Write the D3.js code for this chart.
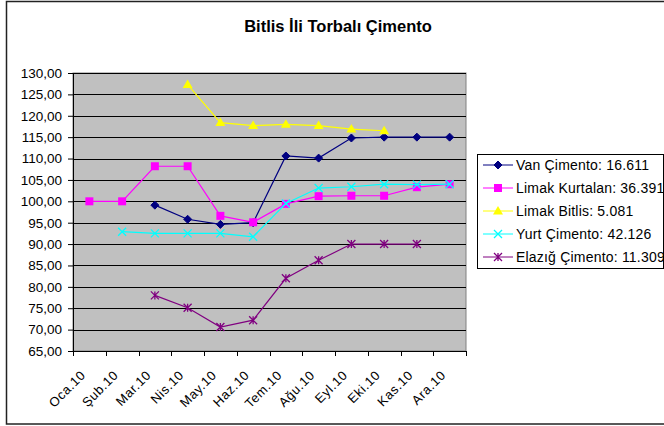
<!DOCTYPE html>
<html>
<head>
<meta charset="utf-8">
<script src="https://cdn.jsdelivr.net/npm/d3@7"></script>
<style>
body { margin: 0; background: #fff; }
text { font-family: "Liberation Sans", Arial, sans-serif; }
</style>
</head>
<body>
<div id="chart"></div>
<script>
//data
var months = ["Oca.10", "Şub.10", "Mar.10", "Nis.10", "May.10", "Haz.10", "Tem.10", "Ağu.10", "Eyl.10", "Eki.10", "Kas.10", "Ara.10"];
var vanCimento = [null, null, 99.1, 95.8, 94.6, 95.0, 110.6, 110.1, 114.8, 115.0, 115.0, 115.0];
var limakKurtalan = [100, 100, 108.2, 108.2, 96.6, 95.1, 99.4, 101.2, 101.3, 101.3, 103.3, 104.0];
var limakBitlis = [null, null, null, 127.3, 118.4, 117.7, 118.0, 117.7, 116.9, 116.5, null, null];
var yurtCimento = [null, 92.9, 92.5, 92.5, 92.5, 91.7, 99.5, 103.1, 103.4, 104.0, 103.9, 104.0];
var elazigCimento = [null, null, 78.0, 75.1, 70.6, 72.2, 82.0, 86.2, 90.0, 90.0, 90.0, null];
var yTicks = [65, 70, 75, 80, 85, 90, 95, 100, 105, 110, 115, 120, 125, 130];

var series = [
    { name: "Van Çimento: 16.611", values: vanCimento, color: "#000080", symbol: "diamond" },
    { name: "Limak Kurtalan: 36.391", values: limakKurtalan, color: "#FF00FF", symbol: "square" },
    { name: "Limak Bitlis: 5.081", values: limakBitlis, color: "#FFFF00", symbol: "triangle" },
    { name: "Yurt Çimento: 42.126", values: yurtCimento, color: "#00FFFF", symbol: "x" },
    { name: "Elazığ Çimento: 11.309", values: elazigCimento, color: "#800080", symbol: "star" }
];

var svgWidth = 664, svgHeight = 426;
var plot = { left: 73, top: 73, right: 466, bottom: 351 };

var svg = d3.select("#chart")
    .append("svg")
    .attr("width", svgWidth)
    .attr("height", svgHeight);

//outer border
svg.append("rect")
    .attr("x", 6.5).attr("y", 1.5)
    .attr("width", 670).attr("height", 422.5)
    .attr("fill", "#fff")
    .attr("stroke", "#222")
    .attr("stroke-width", 1.5);

//title
svg.append("text")
    .attr("x", 338).attr("y", 32)
    .attr("text-anchor", "middle")
    .attr("font-size", 16.5)
    .attr("font-weight", "bold")
    .text("Bitlis İli Torbalı Çimento");

var xScale = d3.scaleBand()
    .domain(months)
    .range([plot.left, plot.right]);

var yScale = d3.scaleLinear()
    .domain([65, 130])
    .range([plot.bottom, plot.top]);

//plot background
svg.append("rect")
    .attr("x", plot.left).attr("y", plot.top)
    .attr("width", plot.right - plot.left)
    .attr("height", plot.bottom - plot.top)
    .attr("fill", "#C0C0C0")
    .attr("stroke", "#808080");

//gridlines
svg.append("g")
    .selectAll("line")
    .data(yTicks.filter(d => d > 65))
    .enter()
    .append("line")
    .attr("x1", plot.left).attr("x2", plot.right)
    .attr("y1", d => Math.round(yScale(d)) + 0.5)
    .attr("y2", d => Math.round(yScale(d)) + 0.5)
    .attr("stroke", "#000");

//y axis
var leftAxis = d3.axisLeft(yScale)
    .tickValues(yTicks)
    .tickSize(5)
    .tickPadding(6)
    .tickFormat(d => d3.format(".2f")(d).replace(".", ","));

var yAxis = svg.append("g")
    .attr("transform", `translate(${plot.left},0)`)
    .call(leftAxis);
yAxis.select(".domain").attr("stroke", "#000").attr("d", `M0.5,${plot.top}V${plot.bottom}`);
yAxis.selectAll(".tick line").attr("stroke", "#000");
yAxis.selectAll(".tick text").attr("font-size", 13.5).attr("fill", "#000")
    .attr("font-family", "Liberation Sans, Arial, sans-serif");

//x axis with ticks between categories
var xAxis = svg.append("g");
xAxis.append("line")
    .attr("x1", plot.left).attr("x2", plot.right)
    .attr("y1", plot.bottom + 0.5).attr("y2", plot.bottom + 0.5)
    .attr("stroke", "#000");
xAxis.selectAll(".xtick")
    .data(months.concat(["end"]))
    .enter()
    .append("line")
    .attr("class", "xtick")
    .attr("x1", (d, i) => Math.round(plot.left + i * xScale.bandwidth()) + 0.5)
    .attr("x2", (d, i) => Math.round(plot.left + i * xScale.bandwidth()) + 0.5)
    .attr("y1", plot.bottom).attr("y2", plot.bottom + 5)
    .attr("stroke", "#000");
xAxis.selectAll(".xlabel")
    .data(months)
    .enter()
    .append("text")
    .attr("class", "xlabel")
    .attr("text-anchor", "end")
    .attr("font-size", 13)
    .attr("letter-spacing", 0.6)
    .attr("transform", d => `translate(${xScale(d) + xScale.bandwidth() / 2 - 3},${plot.bottom + 25}) rotate(-45)`)
    .text(d => d);

var cx = i => xScale(months[i]) + xScale.bandwidth() / 2;

var line = d3.line()
    .defined(d => d != null)
    .x((d, i) => cx(i))
    .y(d => yScale(d));

function drawMarker(g, symbol, color, x, y) {
    if (symbol === "diamond") {
        g.append("path")
            .attr("d", `M${x},${y - 4}L${x + 4},${y}L${x},${y + 4}L${x - 4},${y}Z`)
            .attr("fill", color).attr("stroke", color);
    } else if (symbol === "square") {
        g.append("rect")
            .attr("x", x - 4).attr("y", y - 4)
            .attr("width", 8).attr("height", 8)
            .attr("fill", color);
    } else if (symbol === "triangle") {
        g.append("path")
            .attr("d", `M${x},${y - 5}L${x + 5},${y + 3.5}L${x - 5},${y + 3.5}Z`)
            .attr("fill", color);
    } else if (symbol === "x") {
        g.append("path")
            .attr("d", `M${x - 4},${y - 4}L${x + 4},${y + 4}M${x - 4},${y + 4}L${x + 4},${y - 4}`)
            .attr("stroke", color).attr("stroke-width", 1.3);
    } else {
        g.append("path")
            .attr("d", `M${x - 4},${y - 4}L${x + 4},${y + 4}M${x - 4},${y + 4}L${x + 4},${y - 4}M${x},${y - 4}V${y + 4}`)
            .attr("stroke", color).attr("stroke-width", 1.3);
    }
}

//lines and markers
series.forEach(function (s) {
    var g = svg.append("g");
    g.append("path")
        .datum(s.values)
        .attr("d", line)
        .attr("fill", "none")
        .attr("stroke", s.color)
        .attr("stroke-width", 1.2);
    s.values.forEach(function (v, i) {
        if (v != null) drawMarker(g, s.symbol, s.color, cx(i), yScale(v));
    });
});

//legend
var legend = svg.append("g");
legend.append("rect")
    .attr("x", 477.5).attr("y", 154.5)
    .attr("width", 186).attr("height", 114)
    .attr("fill", "#fff")
    .attr("stroke", "#000");
var legendY = [165, 188, 211, 234, 257];
series.forEach(function (s, i) {
    var y = legendY[i];
    legend.append("line")
        .attr("x1", 483).attr("x2", 513)
        .attr("y1", y).attr("y2", y)
        .attr("stroke", s.color);
    drawMarker(legend, s.symbol, s.color, 498, y);
    legend.append("text")
        .attr("x", 516).attr("y", y + 5)
        .attr("font-size", 14)
        .attr("letter-spacing", 0.2)
        .text(s.name);
});
</script>
</body>
</html>
